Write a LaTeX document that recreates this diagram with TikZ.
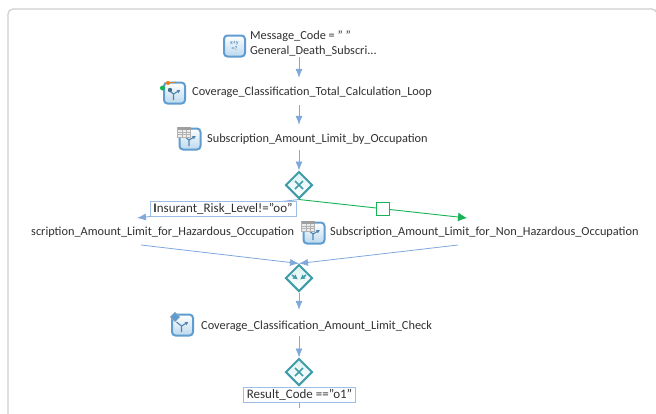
\documentclass[tikz,border=0pt]{standalone}
\usepackage{fontspec}
\setmainfont{Carlito}
\usetikzlibrary{shapes.geometric,arrows.meta}
\definecolor{flowblue}{HTML}{7FA8DC}
\definecolor{flowgreen}{HTML}{16B455}
\definecolor{labelblue}{HTML}{9DBEE6}
\definecolor{teal1}{HTML}{3F9DA8}
\definecolor{teal2}{HTML}{DDF1F3}
\definecolor{iconblue}{HTML}{5F9CCF}
\definecolor{iconfill}{HTML}{BBD8EE}
\definecolor{frameg}{HTML}{CFCFCF}
\definecolor{textc}{HTML}{303030}
\tikzset{
  flow/.style={draw=flowblue,line width=0.8pt,-{Latex[length=9pt,width=7pt]}},
  yesflow/.style={draw=flowgreen,line width=0.9pt,-{Latex[length=9pt,width=9pt]}},
  tlabel/.style={anchor=west,inner sep=0pt,text=textc,font=\fontsize{12.3}{15}\selectfont,align=left},
  stepbox/.style={inner sep=0pt,minimum width=20pt,minimum height=#1},
  gate/.style={diamond,draw=teal1,line width=2pt,top color=teal2,bottom color=white,minimum width=27pt,minimum height=27pt,inner sep=0pt,aspect=1},
  condbox/.style={draw=labelblue,line width=0.9pt,fill=white,text=textc,inner sep=0pt,font=\fontsize{13}{15}\selectfont},
  iconbox/.style={draw=iconblue,line width=2pt,rounded corners=3.5pt,minimum width=21pt,minimum height=21pt,inner sep=0pt,top color=white,bottom color=iconfill},
  gridbox/.style={draw=gray!60,fill=gray!15,minimum width=13pt,minimum height=10pt,inner sep=0pt},
}
\newcommand{\gatex}[1]{\draw[teal1,line width=1.5pt] ([shift={(-4,-4)}]#1.center) -- ([shift={(4,4)}]#1.center) ([shift={(-4,4)}]#1.center) -- ([shift={(4,-4)}]#1.center);}
\newcommand{\branchmark}[1]{\draw[iconblue!85!black,line width=1.1pt] ([shift={(-1,7)}]#1.center) -- ([shift={(-1,1)}]#1.center) -- ([shift={(-6,-3)}]#1.center);
 \draw[iconblue!85!black,line width=1.1pt,-{Latex[length=3.5pt,width=4pt]}] ([shift={(-1,1)}]#1.center) -- ([shift={(6,-3)}]#1.center);}
\newcommand{\gridlines}[1]{\fill[gray!75] ([shift={(-6.5,-5)}]#1.center) rectangle ([shift={(6.5,-2.5)}]#1.center);
 \draw[gray!60,line width=0.4pt] ([shift={(-6.5,0)}]#1.center) -- ([shift={(6.5,0)}]#1.center) ([shift={(-6.5,2.5)}]#1.center) -- ([shift={(6.5,2.5)}]#1.center) ([shift={(-2,-2.5)}]#1.center) -- ([shift={(-2,5)}]#1.center) ([shift={(2,-2.5)}]#1.center) -- ([shift={(2,5)}]#1.center);}
\begin{document}
\begin{tikzpicture}[x=1pt,y=-1pt]
\useasboundingbox (0,0) rectangle (656,413);
\fill[white] (0,0) rectangle (656,413);
\draw[frameg,line width=1.2pt,rounded corners=5pt] (8,420) -- (8,9) -- (657,9) -- (657,420);

% invisible step bodies
\node[stepbox=26pt] (msg) at (299,44) {};
\node[stepbox=27pt] (loop) at (299,91.5) {};
\node[stepbox=25pt] (sub) at (299,137.5) {};
\node[gate] (g1) at (299,185) {};
\node[gate] (g2) at (299,278) {};
\node[stepbox=26pt] (chk) at (299,323) {};
\node[gate] (g3) at (299,372) {};
\gatex{g1}
\gatex{g3}
\draw[teal1,line width=1.5pt,-{Latex[length=5pt,width=5.5pt]}] ([shift={(-7,-3)}]g2.center) -- ([shift={(-1,1.5)}]g2.center);
\draw[teal1,line width=1.5pt,-{Latex[length=5pt,width=5.5pt]}] ([shift={(7,-3)}]g2.center) -- ([shift={(1,1.5)}]g2.center);

% icons
\node[iconbox] (i1) at (234.5,46) {};
\node[font=\fontsize{6}{6.5}\selectfont\bfseries,text=iconblue!80!gray,align=center,inner sep=0pt] (i1t) at (i1.center) {x+y\\=?};
\node[iconbox] (i2) at (174.5,93) {};
\branchmark{i2}
\fill[flowgreen] (162.5,88) circle (2.5pt);
\fill[orange!80!brown] (168,83) circle (2pt);
\fill[iconblue!70!black] (170,90) circle (2.2pt);
\draw[orange!70!brown,line width=0.7pt] (168,83) -- (176,82);
\node[iconbox] (i3) at (190,139) {};
\branchmark{i3}
\node[gridbox] (i3g) at (184,132) {};
\gridlines{i3g}
\node[iconbox] (i4) at (314,233) {};
\branchmark{i4}
\node[gridbox] (i4g) at (308,226) {};
\gridlines{i4g}
\node[iconbox] (i5) at (182.5,325) {};
\branchmark{i5}
\node[diamond,draw=gray!60,fill=iconblue,minimum width=10pt,minimum height=10pt,inner sep=0pt] (i5g) at (175,317) {};

% labels
\node[tlabel] (t1) at (250,43.5) {Message\_Code = " "\\General\_Death\_Subscri...};
\node[tlabel] (t2) at (192,92.5) {Coverage\_Classification\_Total\_Calculation\_Loop};
\node[tlabel] (t3) at (207,139) {Subscription\_Amount\_Limit\_by\_Occupation};
\node[tlabel] (t4) at (31,232) {scription\_Amount\_Limit\_for\_Hazardous\_Occupation};
\node[tlabel] (t5) at (330,232) {Subscription\_Amount\_Limit\_for\_Non\_Hazardous\_Occupation};
\node[tlabel] (t6) at (201,326) {Coverage\_Classification\_Amount\_Limit\_Check};

% free ends
\coordinate (hazIn) at (137,218);
\coordinate (nonIn) at (467,218);
\coordinate (hazOut) at (141,245);
\coordinate (nonOut) at (458,245);
\coordinate (tail) at (299,408);

% connectors
\draw[flow] (msg.south) -- (loop.north);
\draw[flow] (loop.south) -- (sub.north);
\draw[flow] (sub.south) -- (g1.north);
\draw[flow] (g1.south) -- (hazIn);
\draw[yesflow] (g1.south) -- node[pos=0.5,draw=flowgreen,fill=white,line width=0.9pt,minimum width=13pt,minimum height=13pt,inner sep=0pt] (cond) {} (nonIn);
\draw[flow] (hazOut) -- (g2.north);
\draw[flow] (nonOut) -- (g2.north);
\draw[flow] (g2.south) -- (chk.north);
\draw[flow] (chk.south) -- (g3.north);
\draw[draw=flowblue,line width=0.8pt] (g3.south) -- (tail);

% condition labels
\node[condbox,minimum width=146pt,minimum height=14.5pt] (c1) at (223,209) {\textbf{I}nsurant\_Risk\_Level!="oo"};
\node[condbox,minimum width=112pt,minimum height=15pt] (c2) at (299.5,394.5) {Result\_Code =="o1"};
\end{tikzpicture}
\end{document}
